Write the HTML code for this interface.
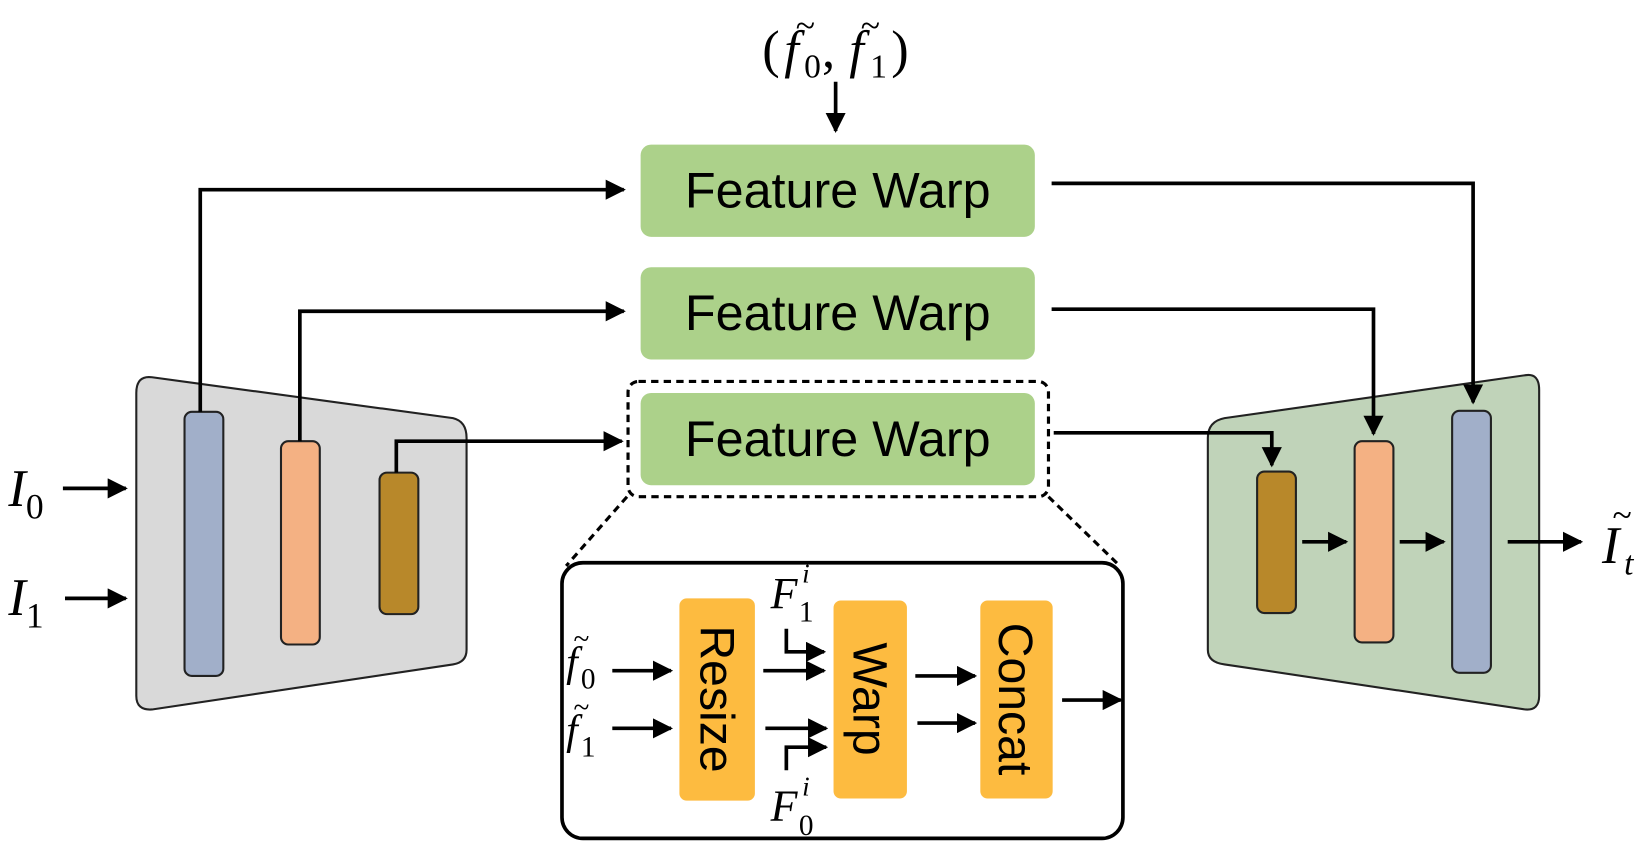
<!DOCTYPE html>
<html><head><meta charset="utf-8"><style>
html,body{margin:0;padding:0;background:#fff;}
svg{display:block;}
.fw{font-family:"Liberation Sans",sans-serif;font-size:48px;fill:#000;}
.m{font-family:"Liberation Serif",serif;font-style:italic;fill:#000;}
.r{font-family:"Liberation Serif",serif;fill:#000;}
.or{font-family:"Liberation Sans",sans-serif;font-size:46px;fill:#000;}
</style></head><body>
<svg width="1644" height="852" viewBox="0 0 1568 813" preserveAspectRatio="none" xmlns="http://www.w3.org/2000/svg">
<defs>
<marker id="a" viewBox="0 0 10 10" refX="9" refY="5" markerWidth="5.5" markerHeight="5.5" orient="auto"><path d="M0,0 L10,5 L0,10 z" fill="#000"/></marker>
</defs>
<path d="M145,360 L432,399 Q445,402 445,418 L445,620 Q445,632 432,634 L145,677 Q130,678 130,664 L130,375 Q130,358 145,360 z" fill="#d9d9d9" stroke="#222" stroke-width="2"/>
<path d="M1455,358 L1168,399 Q1152,402 1152,418 L1152,620 Q1152,632 1168,634 L1455,677 Q1468,678 1468,664 L1468,372 Q1468,356 1455,358 z" fill="#c0d3b9" stroke="#222" stroke-width="2"/>
<g stroke="#222" stroke-width="2">
<rect x="176" y="393" width="37" height="252" rx="7" fill="#a1afc9"/>
<rect x="268" y="421" width="37" height="194" rx="7" fill="#f4b183"/>
<rect x="362" y="451" width="37" height="135" rx="7" fill="#b8882a"/>
<rect x="1199" y="450" width="37" height="135" rx="7" fill="#b8882a"/>
<rect x="1292" y="421" width="37" height="192" rx="7" fill="#f4b183"/>
<rect x="1385" y="392" width="37" height="250" rx="7" fill="#a1afc9"/>
</g>
<rect x="611" y="138" width="376" height="88" rx="10" fill="#acd18a"/>
<rect x="611" y="255" width="376" height="88" rx="10" fill="#acd18a"/>
<rect x="611" y="375" width="376" height="88" rx="10" fill="#acd18a"/>
<text class="fw" x="799" y="198" text-anchor="middle">Feature Warp</text>
<text class="fw" x="799" y="315" text-anchor="middle">Feature Warp</text>
<text class="fw" x="799" y="435" text-anchor="middle">Feature Warp</text>
<rect x="599" y="364" width="401" height="110" rx="10" fill="none" stroke="#000" stroke-width="3" stroke-dasharray="7,5"/>
<line x1="598" y1="474" x2="540" y2="540" stroke="#000" stroke-width="3" stroke-dasharray="7,5"/>
<line x1="1000" y1="474" x2="1068" y2="540" stroke="#000" stroke-width="3" stroke-dasharray="7,5"/>
<rect x="536" y="537" width="535" height="263" rx="20" fill="none" stroke="#000" stroke-width="3.5"/>
<rect x="648" y="571" width="72" height="193" rx="7" fill="#fdbb40"/>
<rect x="795" y="573" width="70" height="189" rx="7" fill="#fdbb40"/>
<rect x="935" y="573" width="69" height="189" rx="7" fill="#fdbb40"/>
<text class="or" transform="translate(668,667) rotate(90)" text-anchor="middle">Resize</text>
<text class="or" transform="translate(814,667) rotate(90)" text-anchor="middle">Warp</text>
<text class="or" transform="translate(953,667) rotate(90)" text-anchor="middle" font-size="49">Concat</text>
<g stroke="#000" stroke-width="3.5" fill="none" marker-end="url(#a)">
<line x1="797" y1="78" x2="797" y2="125"/>
<polyline points="191,393 191,181 595,181"/>
<polyline points="286,421 286,297 595,297"/>
<polyline points="378,451 378,421 593,421"/>
<polyline points="1003,175 1405,175 1405,384"/>
<polyline points="1003,295 1310,295 1310,414"/>
<polyline points="1005,413 1213,413 1213,444"/>
<line x1="60" y1="466" x2="120" y2="466"/>
<line x1="62" y1="571" x2="120" y2="571"/>
<line x1="1242" y1="517" x2="1284" y2="517"/>
<line x1="1335" y1="517" x2="1377" y2="517"/>
<line x1="1438" y1="517" x2="1508" y2="517"/>
<line x1="584" y1="640" x2="640" y2="640"/>
<line x1="584" y1="695" x2="640" y2="695"/>
<line x1="728" y1="640" x2="786" y2="640"/>
<line x1="730" y1="695" x2="788" y2="695"/>
<polyline points="750,600 750,622 786,622"/>
<polyline points="750,735 750,713 788,713"/>
<line x1="873" y1="645" x2="930" y2="645"/>
<line x1="875" y1="690" x2="930" y2="690"/>
<line x1="1013" y1="668" x2="1069" y2="668"/>
</g>
<text class="r" x="727" y="64" font-size="50">(</text>
<text class="m" x="748" y="64" font-size="50">f</text>
<text class="r" x="759" y="36" font-size="34">~</text>
<text class="r" x="767" y="74" font-size="32">0</text>
<text class="r" x="784" y="64" font-size="50">,</text>
<text class="m" x="810" y="64" font-size="50">f</text>
<text class="r" x="821" y="36" font-size="34">~</text>
<text class="r" x="830" y="74" font-size="32">1</text>
<text class="r" x="850" y="64" font-size="50">)</text>
<text x="8" y="483" font-size="50"><tspan class="m">I</tspan><tspan class="r" font-size="34" dy="12">0</tspan></text>
<text x="8" y="587" font-size="50"><tspan class="m">I</tspan><tspan class="r" font-size="34" dy="12">1</tspan></text>
<text class="m" x="1528" y="537" font-size="50">I</text>
<text class="r" x="1538" y="503" font-size="34">~</text>
<text class="m" x="1549" y="548" font-size="32">t</text>
<text class="m" x="540" y="645" font-size="40">f</text>
<text class="r" x="547" y="619" font-size="28">~</text>
<text class="r" x="554" y="657" font-size="28">0</text>
<text class="m" x="540" y="710" font-size="40">f</text>
<text class="r" x="547" y="684" font-size="28">~</text>
<text class="r" x="554" y="722" font-size="28">1</text>
<text class="m" x="735" y="580" font-size="42">F</text>
<text class="m" x="765" y="556" font-size="26">i</text>
<text class="r" x="762" y="593" font-size="28">1</text>
<text class="m" x="735" y="783" font-size="42">F</text>
<text class="m" x="765" y="759" font-size="26">i</text>
<text class="r" x="762" y="797" font-size="28">0</text>
</svg>
</body></html>
